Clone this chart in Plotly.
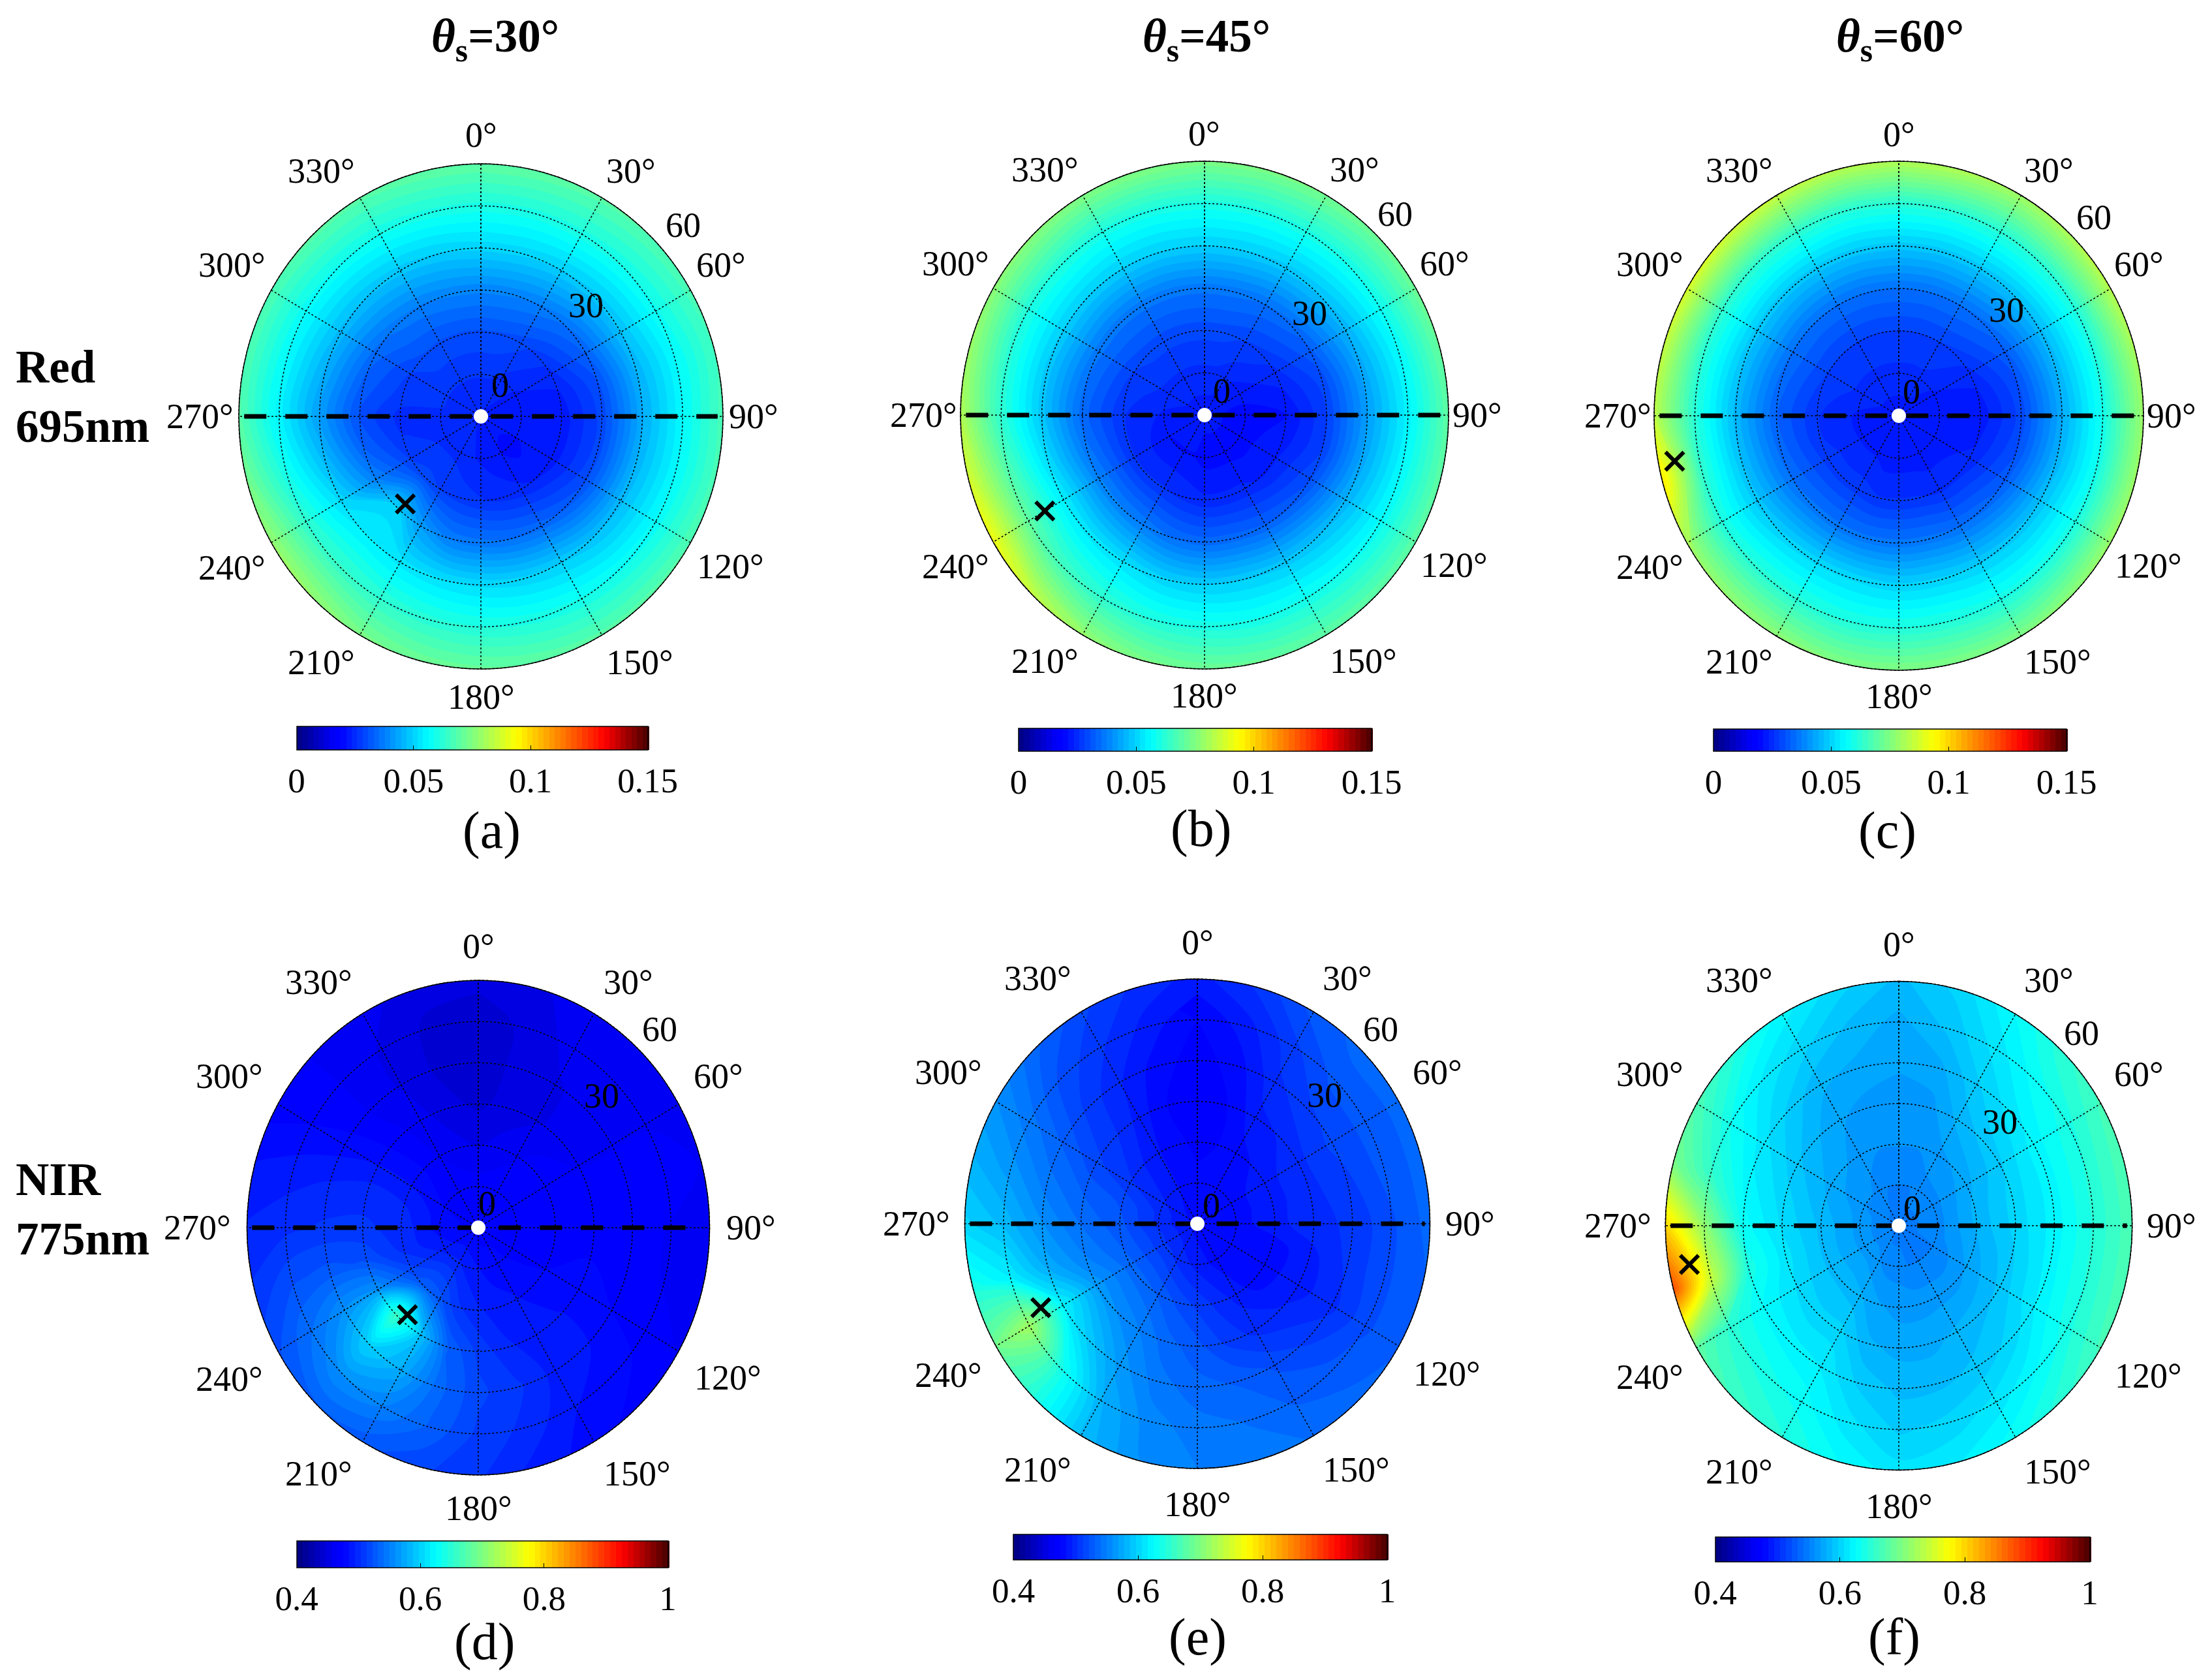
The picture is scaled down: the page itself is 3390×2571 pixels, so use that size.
import numpy as np
import plotly.graph_objects as go

W, H = 3390, 2571
FONT = "Liberation Serif"

# view zenith (rings) and relative azimuth (spokes) of the grids below
zenith = [0, 15, 30, 45, 60, 75, 90]
azimuth = [0, 15, 30, 45, 60, 75, 90, 105, 120, 135, 150, 165, 180, 195, 210, 225, 240, 255, 270, 285, 300, 315, 330, 345]

# one row per azimuth, one column per zenith
red_30 = [
    [.023, .026, .030, .038, .050, .060, .070], [.023, .026, .030, .038, .050, .060, .070],
    [.023, .025, .029, .037, .049, .060, .069], [.023, .024, .027, .035, .048, .059, .068],
    [.023, .023, .025, .033, .047, .058, .067], [.023, .022, .023, .030, .045, .056, .066],
    [.023, .022, .022, .029, .044, .056, .067], [.023, .022, .022, .029, .045, .056, .067],
    [.023, .021, .022, .030, .046, .057, .068], [.023, .020, .023, .032, .047, .058, .069],
    [.023, .021, .024, .034, .049, .059, .069], [.023, .022, .025, .035, .050, .060, .070],
    [.023, .023, .026, .036, .051, .061, .071], [.023, .024, .027, .037, .052, .062, .072],
    [.023, .025, .028, .042, .053, .063, .074], [.023, .025, .029, .050, .054, .064, .078],
    [.023, .025, .028, .038, .051, .063, .078], [.023, .025, .026, .033, .046, .059, .073],
    [.023, .025, .025, .030, .042, .055, .069], [.023, .026, .027, .032, .044, .056, .068],
    [.023, .026, .028, .034, .046, .057, .068], [.023, .026, .030, .036, .047, .058, .069],
    [.023, .026, .030, .037, .048, .059, .069], [.023, .026, .030, .038, .049, .060, .070],
]
red_45 = [
    [.022, .025, .029, .036, .049, .060, .074], [.022, .025, .029, .036, .049, .060, .074],
    [.022, .024, .028, .035, .048, .060, .073], [.022, .023, .027, .034, .047, .059, .072],
    [.022, .022, .025, .032, .045, .058, .072], [.022, .021, .023, .029, .043, .056, .071],
    [.022, .020, .021, .028, .042, .055, .070], [.022, .020, .022, .028, .043, .056, .070],
    [.022, .020, .023, .030, .045, .057, .070], [.022, .020, .023, .032, .047, .058, .070],
    [.022, .020, .024, .033, .048, .059, .070], [.022, .020, .024, .034, .049, .059, .071],
    [.022, .020, .024, .034, .049, .060, .072], [.022, .021, .025, .035, .050, .061, .074],
    [.022, .021, .026, .037, .052, .063, .078], [.022, .021, .026, .038, .053, .066, .085],
    [.022, .021, .026, .038, .054, .070, .092], [.022, .022, .026, .036, .051, .068, .088],
    [.022, .023, .026, .034, .048, .063, .082], [.022, .024, .027, .035, .048, .062, .079],
    [.022, .025, .028, .036, .049, .061, .077], [.022, .025, .029, .036, .049, .061, .076],
    [.022, .025, .029, .036, .049, .060, .075], [.022, .025, .029, .036, .049, .060, .075],
]
red_60 = [
    [.022, .025, .028, .035, .048, .062, .082], [.022, .025, .028, .035, .048, .062, .082],
    [.022, .025, .028, .035, .048, .062, .080], [.022, .024, .027, .034, .047, .062, .082],
    [.022, .023, .025, .032, .046, .061, .083], [.022, .022, .023, .030, .045, .060, .081],
    [.022, .022, .022, .029, .044, .059, .079], [.022, .022, .023, .030, .045, .059, .079],
    [.022, .022, .024, .032, .047, .060, .079], [.022, .022, .025, .034, .048, .060, .077],
    [.022, .022, .025, .035, .049, .060, .075], [.022, .022, .026, .036, .050, .061, .075],
    [.022, .022, .026, .036, .050, .061, .075], [.022, .022, .026, .036, .051, .061, .075],
    [.022, .023, .027, .036, .051, .062, .077], [.022, .023, .027, .036, .050, .062, .078],
    [.022, .023, .027, .035, .048, .061, .080], [.022, .023, .026, .034, .047, .063, .097],
    [.022, .023, .026, .033, .046, .062, .084], [.022, .024, .027, .034, .047, .062, .085],
    [.022, .025, .028, .035, .048, .063, .088], [.022, .025, .028, .035, .048, .063, .087],
    [.022, .025, .028, .035, .048, .063, .085], [.022, .025, .028, .035, .048, .062, .083],
]
nir_30 = [
    [.47, .47, .455, .445, .44, .44, .45], [.47, .47, .46, .45, .45, .45, .455],
    [.47, .47, .465, .455, .455, .46, .46], [.47, .47, .47, .46, .46, .46, .465],
    [.47, .47, .47, .465, .465, .465, .465], [.47, .47, .47, .47, .47, .47, .465],
    [.47, .47, .47, .47, .47, .465, .46], [.47, .47, .475, .475, .47, .465, .46],
    [.47, .475, .475, .48, .475, .47, .465], [.47, .475, .48, .485, .485, .48, .47],
    [.47, .48, .485, .49, .49, .485, .48], [.47, .48, .49, .495, .505, .50, .49],
    [.47, .485, .495, .51, .515, .51, .505], [.47, .49, .505, .53, .535, .53, .515],
    [.47, .495, .525, .59, .575, .55, .525], [.47, .495, .53, .66, .60, .56, .53],
    [.47, .49, .515, .56, .56, .54, .52], [.47, .485, .50, .52, .525, .52, .505],
    [.47, .48, .50, .505, .505, .50, .495], [.47, .48, .495, .50, .495, .49, .485],
    [.47, .475, .485, .485, .48, .475, .47], [.47, .47, .475, .47, .465, .465, .465],
    [.47, .47, .465, .46, .455, .455, .46], [.47, .47, .46, .45, .445, .445, .45],
]
nir_45 = [
    [.48, .48, .47, .47, .47, .475, .49], [.48, .48, .475, .475, .48, .49, .505],
    [.48, .48, .48, .49, .50, .51, .525], [.48, .48, .485, .495, .51, .525, .535],
    [.48, .48, .49, .50, .515, .525, .535], [.48, .48, .49, .50, .51, .525, .535],
    [.48, .48, .49, .50, .505, .52, .535], [.48, .475, .48, .49, .505, .52, .53],
    [.48, .475, .48, .49, .50, .52, .53], [.48, .475, .48, .495, .51, .525, .535],
    [.48, .48, .49, .50, .52, .53, .54], [.48, .485, .50, .51, .53, .54, .545],
    [.48, .49, .51, .525, .535, .545, .55], [.48, .495, .52, .535, .545, .555, .56],
    [.48, .50, .53, .55, .565, .58, .585], [.48, .505, .535, .56, .595, .64, .645],
    [.48, .505, .535, .565, .62, .72, .69], [.48, .505, .53, .55, .575, .615, .64],
    [.48, .50, .525, .54, .56, .585, .60], [.48, .50, .52, .53, .545, .565, .58],
    [.48, .495, .505, .515, .53, .545, .56], [.48, .49, .495, .505, .51, .52, .535],
    [.48, .485, .485, .49, .495, .505, .515], [.48, .48, .48, .475, .48, .49, .50],
]
nir_60 = [
    [.545, .55, .56, .565, .57, .575, .585], [.545, .55, .56, .565, .575, .59, .60],
    [.545, .555, .565, .58, .595, .61, .625], [.545, .555, .57, .59, .61, .63, .65],
    [.545, .555, .575, .595, .62, .64, .665], [.545, .555, .58, .60, .62, .645, .67],
    [.545, .555, .58, .60, .62, .645, .67], [.545, .555, .575, .595, .62, .645, .67],
    [.545, .55, .57, .59, .615, .64, .665], [.545, .55, .565, .585, .60, .625, .65],
    [.545, .55, .565, .58, .59, .61, .63], [.545, .55, .565, .575, .585, .60, .615],
    [.545, .555, .565, .575, .585, .595, .61], [.545, .555, .57, .58, .595, .61, .625],
    [.545, .56, .58, .60, .615, .63, .645], [.545, .565, .585, .60, .62, .64, .66],
    [.545, .565, .585, .605, .625, .65, .68], [.545, .565, .585, .61, .64, .74, .88],
    [.545, .565, .585, .605, .63, .71, .80], [.545, .565, .58, .60, .62, .655, .695],
    [.545, .56, .575, .59, .61, .635, .67], [.545, .56, .57, .58, .595, .615, .645],
    [.545, .555, .565, .57, .58, .60, .62], [.545, .55, .56, .565, .575, .585, .60],
]

# hot spot marks: zenith, azimuth
cross_zenith = [42, 68, 84, 42, 68, 82]
cross_azimuth = [222, 240, 259, 221, 243, 260]

panel_letters = ["(a)", "(b)", "(c)", "(d)", "(e)", "(f)"]
panel_values = [red_30, red_45, red_60, nir_30, nir_45, nir_60]
scale_min = [0, 0, 0, 0.4, 0.4, 0.4]
scale_max = [0.15, 0.15, 0.15, 1, 1, 1]
scale_ticks = [[0, 0.05, 0.1, 0.15]] * 3 + [[0.4, 0.6, 0.8, 1]] * 3
scale_text = [["0", "0.05", "0.1", "0.15"]] * 3 + [["0.4", "0.6", "0.8", "1"]] * 3

spoke_vals = list(range(0, 360, 30))
spoke_text = [f"{a}°" for a in spoke_vals]

# matlab style jet, the plotly one is too dull in the blues
JET = [[0, "rgb(0,0,127)"], [0.11, "rgb(0,0,255)"], [0.125, "rgb(0,0,255)"], [0.375, "rgb(0,255,255)"],
       [0.625, "rgb(255,255,0)"], [0.875, "rgb(255,0,0)"], [1, "rgb(70,0,0)"]]

# layout in picture pixels: centre and half axes of each disc
cx = [737, 1846, 2910, 733, 1835, 2910]
cy = [638, 636, 637, 1881, 1875, 1878]
rx = [371, 374, 375, 354.5, 356.5, 357.7]
ry = [387, 389, 390, 379, 375, 374.5]
# colour bar left, right, top, bottom
bar_l = [454.5, 1561, 2626, 454.5, 1553, 2628.5]
bar_r = [992, 2102, 3167, 1023, 2126, 3202.6]
bar_t = [1113, 1115.5, 1117, 2361, 2351, 2354.5]
bar_b = [1149, 1150, 1151, 2401.5, 2390, 2392]
letter_x = [753, 1840, 2892, 742, 1835, 2903]
letter_y = [1272, 1269, 1272, 2515, 2508, 2508]
# spoke label offsets from the centre
spoke_dx = [0, 230, 368, 418, 382, 243, 0, -245, -382, -431, -382, -245]
spoke_dy = [431, 376, 232, 0, -230, -377, -430, -377, -232, 0, 232, 376]
# ring labels 0, 30, 60 offsets for each panel
ring_dx = [[29, 161, 310], [26, 161, 292], [19, 165, 299], [13, 189, 278], [21, 195, 281], [20, 155, 280]]
ring_dy = [[48, 170, 293], [37, 156, 308], [37, 162, 304], [37, 202, 304], [28, 197, 298], [27, 159, 295]]


def px(x):
    return x / W


def py(y):
    return 1 - y / H


def label(x, y, text, size, **kw):
    return dict(x=px(x), y=py(y), xref="paper", yref="paper", text=text, showarrow=False,
                font=dict(family=FONT, size=size, color="black"), xanchor=kw.get("xanchor", "center"),
                yanchor="middle", align="left")


fig = go.Figure()
annotations = []
az_wrap = azimuth + [360]
zen = np.array(zenith, dtype=float)
az_rad = np.radians(az_wrap)
grid_x = np.outer(np.sin(az_rad), zen)
grid_y = np.outer(np.cos(az_rad), zen)
EXTENT = 92
layout_axes = {}

for i in range(6):
    n = i + 1
    cid = f"c{n}"
    xa, ya = f"x{n}", f"y{n}"
    z = panel_values[i] + [panel_values[i][0]]
    span = scale_max[i] - scale_min[i]

    fig.add_trace(go.Contourcarpet(
        a=zenith, b=az_wrap, z=z, carpet=cid, xaxis=xa, yaxis=ya,
        autocontour=False, zauto=False, zmin=scale_min[i], zmax=scale_max[i],
        contours=dict(coloring="fill", showlines=False, start=scale_min[i], end=scale_max[i], size=span / 64),
        line=dict(width=0), colorscale=JET,
        colorbar=dict(
            orientation="h", lenmode="pixels", len=bar_r[i] - bar_l[i], thicknessmode="pixels",
            thickness=bar_b[i] - bar_t[i], x=px(bar_l[i]), xanchor="left", y=py(bar_t[i]), yanchor="top",
            xpad=0, ypad=0, outlinecolor="black", outlinewidth=1.5, tickvals=scale_ticks[i], ticktext=scale_text[i],
            ticks="inside", ticklen=7, tickcolor="black", tickfont=dict(family=FONT, size=53, color="black"),
        ),
    ))
    fig.add_trace(go.Carpet(
        carpet=cid, a=zenith, b=az_wrap, x=grid_x, y=grid_y, xaxis=xa, yaxis=ya,
        aaxis=dict(tickmode="linear", tick0=0, dtick=15, smoothing=0, gridcolor="black", gridwidth=1.5,
                   griddash="dot", showticklabels="none", startline=False, endline=True, endlinecolor="black",
                   endlinewidth=1.5, minorgridcount=0, showline=False),
        baxis=dict(tickmode="linear", tick0=0, dtick=30, smoothing=1, gridcolor="black", gridwidth=1.5,
                   griddash="dot", showticklabels="none", startline=False, endline=False,
                   minorgridcount=0, showline=False),
    ))
    # dashed principal plane
    fig.add_trace(go.Scattercarpet(
        carpet=cid, a=[88, 0, 88], b=[270, 270, 90], mode="lines", xaxis=xa, yaxis=ya,
        line=dict(color="black", width=7, dash="34px,29px", smoothing=0), showlegend=False,
    ))
    fig.add_trace(go.Scattercarpet(
        carpet=cid, a=[cross_zenith[i]], b=[cross_azimuth[i]], mode="markers", xaxis=xa, yaxis=ya,
        marker=dict(symbol="x-thin", size=28, color="black", line=dict(color="black", width=6)), showlegend=False,
    ))
    fig.add_trace(go.Scattercarpet(
        carpet=cid, a=[0], b=[0], mode="markers", xaxis=xa, yaxis=ya,
        marker=dict(symbol="circle", size=22, color="white"), showlegend=False,
    ))

    hw = rx[i] * EXTENT / 90
    hh = ry[i] * EXTENT / 90
    layout_axes[f"xaxis{n}"] = dict(domain=[px(cx[i] - hw), px(cx[i] + hw)], range=[-EXTENT, EXTENT],
                                    visible=False, anchor=ya)
    layout_axes[f"yaxis{n}"] = dict(domain=[py(cy[i] + hh), py(cy[i] - hh)], range=[-EXTENT, EXTENT],
                                    visible=False, anchor=xa)

    for t, dx, dy in zip(spoke_text, spoke_dx, spoke_dy):
        annotations.append(label(cx[i] + dx, cy[i] - dy, t, 54))
    for t, dx, dy in zip(["0", "30", "60"], ring_dx[i], ring_dy[i]):
        annotations.append(label(cx[i] + dx, cy[i] - dy, t, 54))
    annotations.append(label(letter_x[i], letter_y[i], panel_letters[i], 80))

for x, t in zip([759, 1849, 2912], ["30", "45", "60"]):
    annotations.append(label(x, 60, f"<b><i>θ</i><sub>s</sub>={t}°</b>", 71))
for y, t in zip([562, 653, 1807, 1898], ["Red", "695nm", "NIR", "775nm"]):
    annotations.append(label(22, y, f"<b>{t}</b>", 71, xanchor="left"))

fig.update_layout(
    width=W, height=H, margin=dict(l=0, r=0, t=0, b=0), paper_bgcolor="white", plot_bgcolor="white",
    showlegend=False, annotations=annotations, font=dict(family=FONT), **layout_axes,
)

fig.write_html("out.html", config=dict(displayModeBar=False), post_script="document.body.style.margin='0';")
